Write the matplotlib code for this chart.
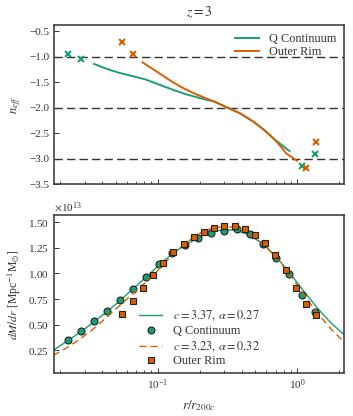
import matplotlib
matplotlib.use("Agg")
import matplotlib.pyplot as plt
import matplotlib.ticker as mticker
import numpy as np

plt.rcParams.update({
    "font.family": "serif",
    "font.serif": ["Liberation Serif", "DejaVu Serif"],
    "mathtext.fontset": "stix",
    "font.size": 8,
    "xtick.direction": "in",
    "ytick.direction": "in",
})

# --- Data ---
qc_color = "#1b9e77"
or_color = "#d95f02"

# binned profile points (r / r200c)
qc_r = [0.02296, 0.02844, 0.03522, 0.04355, 0.05395, 0.06683, 0.08279, 0.1025,
        0.1268, 0.1570, 0.1945, 0.2409, 0.2983, 0.3690, 0.4571, 0.5662,
        0.7015, 0.8690, 1.074, 1.331]
qc_dmdr = [0.354, 0.439, 0.534, 0.632, 0.740, 0.851, 0.965, 1.092, 1.200, 1.275,
           1.347, 1.399, 1.418, 1.431, 1.382, 1.288, 1.151, 0.994, 0.785, 0.625]

or_r = [0.0560, 0.0662, 0.0783, 0.0927, 0.1097, 0.1298, 0.1535, 0.1816, 0.2149,
        0.2542, 0.3008, 0.3558, 0.4209, 0.4983, 0.5895, 0.6974, 0.826, 0.977,
        1.156, 1.368]
or_dmdr = [0.602, 0.733, 0.860, 0.984, 1.102, 1.206, 1.285, 1.356, 1.405, 1.444,
           1.461, 1.461, 1.431, 1.376, 1.298, 1.183, 1.033, 0.860, 0.697, 0.596]

# Einasto fits
qc_fit_r = [0.01782, 0.02218, 0.02767, 0.03451, 0.04295, 0.05358, 0.06668, 0.08318,
            0.1038, 0.1291, 0.1611, 0.2004, 0.2443, 0.2965, 0.3698, 0.4603,
            0.5741, 0.7145, 0.8913, 1.109, 1.384, 1.726, 2.148]
qc_fit = [0.250, 0.333, 0.424, 0.521, 0.622, 0.733, 0.850, 0.967, 1.090, 1.198,
          1.285, 1.357, 1.405, 1.428, 1.420, 1.370, 1.285, 1.155, 0.999, 0.830,
          0.667, 0.523, 0.406]
or_fit_r = [0.01782, 0.02218, 0.02767, 0.03451, 0.04295, 0.05358, 0.06668, 0.08318,
            0.1094, 0.1291, 0.1524, 0.1795, 0.2118, 0.2443, 0.2965, 0.3698,
            0.4603, 0.5741, 0.7145, 0.8913, 1.109, 1.384, 1.726, 2.148]
or_fit = [0.199, 0.271, 0.358, 0.456, 0.570, 0.687, 0.804, 0.921, 1.083, 1.188,
          1.276, 1.350, 1.410, 1.440, 1.458, 1.450, 1.376, 1.285, 1.148, 0.986,
          0.797, 0.618, 0.465, 0.335]

# effective slope n_eff
qc_neff_r = [0.03508, 0.04207, 0.05236, 0.06531, 0.08128, 0.1014, 0.1265, 0.1574,
             0.1959, 0.2553, 0.3133, 0.3899, 0.4864, 0.5728, 0.6761, 0.7762, 0.8810]
qc_neff = [-1.144, -1.229, -1.313, -1.379, -1.444, -1.543, -1.641, -1.732,
           -1.804, -1.882, -1.993, -2.111, -2.275, -2.425, -2.602, -2.732, -2.850]
or_neff_r = [0.07780, 0.09078, 0.1072, 0.1265, 0.1489, 0.1758, 0.2075, 0.2553,
             0.3133, 0.3899, 0.4864, 0.5728, 0.6761, 0.7762, 0.8337, 0.8913, 0.9954]
or_neff = [-1.111, -1.229, -1.359, -1.490, -1.601, -1.699, -1.784, -1.882,
           -1.993, -2.111, -2.275, -2.425, -2.602, -2.784, -2.895, -2.948, -3.040]

# end bins shown as crosses
qc_x_r = [0.02296, 0.02844, 1.074, 1.331]
qc_x_n = [-0.948, -1.050, -3.140, -2.910]
or_x_r = [0.0560, 0.0662, 1.156, 1.368]
or_x_n = [-0.710, -0.954, -3.180, -2.680]

# --- Plot ---
fig = plt.figure(figsize=(3.53, 4.16), dpi=100)
ax1 = fig.add_axes([0.153, 0.557, 0.822, 0.383])
ax2 = fig.add_axes([0.153, 0.1034, 0.822, 0.3786])

for ax in (ax1, ax2):
    ax.set_xscale("log")
    ax.set_xlim(0.0181, 2.17)
    for s in ax.spines.values():
        s.set_color("#333333")
        s.set_linewidth(1.1)
    ax.tick_params(which="major", length=3.5, width=0.7, colors="#333333", labelcolor="#333333")
    ax.tick_params(which="minor", length=2, width=0.6, colors="#333333")

# top panel
for yv in (-1, -2, -3):
    ax1.axhline(yv, color="#333333", lw=1.0, ls=(0, (6, 3)), zorder=1)
ax1.plot(qc_neff_r, qc_neff, color=qc_color, lw=1.4, label="Q Continuum")
ax1.plot(or_neff_r, or_neff, color=or_color, lw=1.4, label="Outer Rim")
ax1.plot(qc_x_r, qc_x_n, ls="none", marker="x", ms=4.5, mew=1.5, color=qc_color)
ax1.plot(or_x_r, or_x_n, ls="none", marker="x", ms=4.5, mew=1.5, color=or_color)
ax1.set_ylim(-3.5, -0.38)
ax1.yaxis.set_major_locator(mticker.MultipleLocator(0.5))
ax1.xaxis.set_major_formatter(mticker.NullFormatter())
ax1.xaxis.set_minor_formatter(mticker.NullFormatter())
ax1.set_ylabel(r"$n_{eff}$", fontsize=9, color="#333333")
ax1.set_title(r"$z = 3$", fontsize=10, color="#333333", pad=6)
ax1.legend(loc="upper right", frameon=False, fontsize=8.8, handlelength=2.0,
           borderaxespad=0.25, labelspacing=0.12, labelcolor="#333333")

# bottom panel
scale = 1e13
ax2.plot(qc_fit_r, np.array(qc_fit) * scale, color=qc_color, lw=1.0,
         label=r"$c = 3.37,\, \alpha = 0.27$")
ax2.plot(qc_r, np.array(qc_dmdr) * scale, ls="none", marker="o", ms=5,
         mfc=qc_color, mec="#222222", mew=0.8, label="Q Continuum")
ax2.plot(or_fit_r, np.array(or_fit) * scale, color=or_color, lw=1.0, ls=(0, (5, 3)),
         label=r"$c = 3.23,\, \alpha = 0.32$")
ax2.plot(or_r, np.array(or_dmdr) * scale, ls="none", marker="s", ms=5,
         mfc=or_color, mec="#222222", mew=0.8, label="Outer Rim")
ax2.set_ylim(0.028 * scale, 1.566 * scale)
ax2.yaxis.set_major_locator(mticker.MultipleLocator(0.25 * scale))
fmt = mticker.ScalarFormatter(useMathText=True)
ax2.yaxis.set_major_formatter(fmt)
ax2.set_xlabel(r"$r/r_{200c}$", fontsize=9.5, color="#333333")
ax2.set_ylabel(r"$dM/dr$ [Mpc$^{-1}$M$_{\odot}$]", fontsize=8.5, color="#333333")
ax2.legend(loc="lower left", bbox_to_anchor=(0.255, -0.035), frameon=False, fontsize=8.8,
           handlelength=1.9, handletextpad=0.9, labelcolor="#333333", labelspacing=0.15)

fig.savefig("out.png", dpi=100)
